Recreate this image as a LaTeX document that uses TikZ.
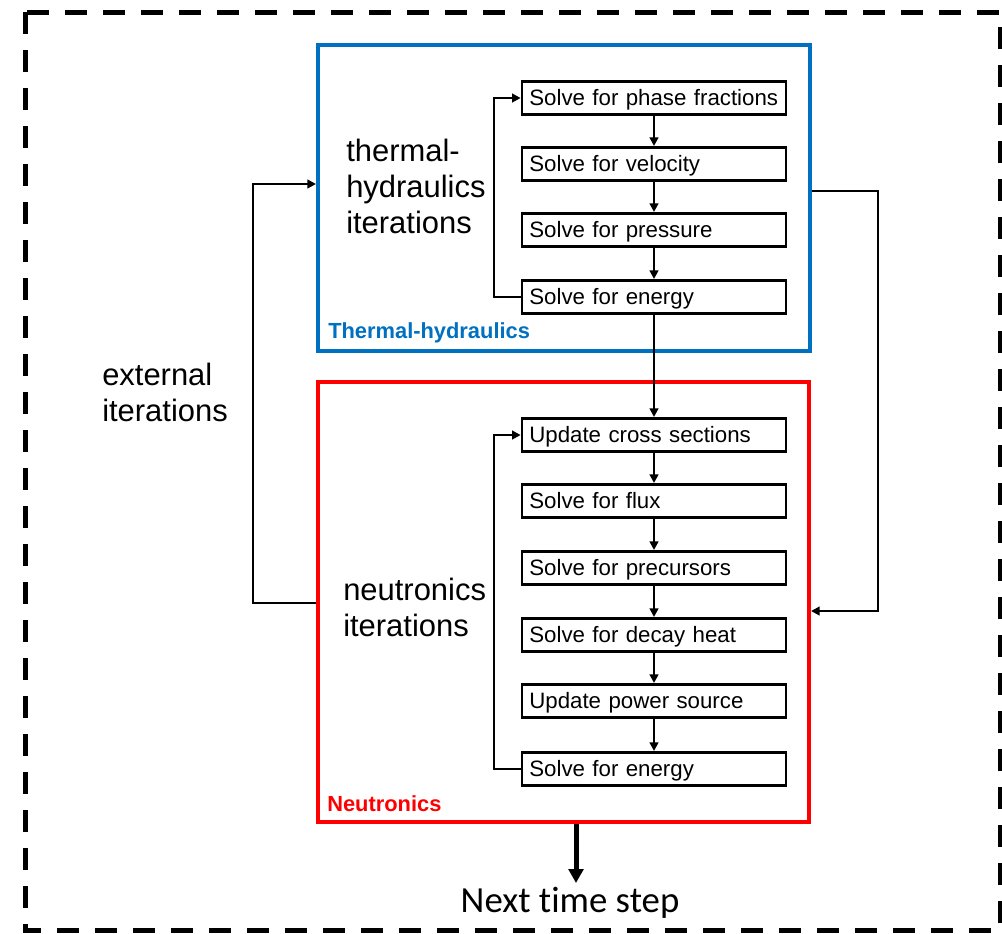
\documentclass[tikz,border=0pt]{standalone}
\usepackage{fontspec}
\setmainfont{Liberation Sans}
\newfontfamily\calfont[Ligatures={NoCommon}]{Carlito}
\usetikzlibrary{arrows.meta}
\definecolor{thblue}{HTML}{0070C0}
\definecolor{ntred}{HTML}{FF0000}
\begin{document}
\begin{tikzpicture}[x=0.75pt,y=-0.75pt,
  stepbox/.style={draw=black, line width=2pt, text width=187pt, inner xsep=5.5pt, inner ysep=0pt,
     text height=14pt, text depth=3.5pt,
     minimum height=25pt, align=left, font=\fontsize{16.7pt}{19pt}\selectfont},
  conn/.style={line width=2pt, -{Triangle[length=6.5pt,width=6.5pt]}},
  biglabel/.style={inner sep=0pt, anchor=west, align=left, font=\fontsize{23.2pt}{27pt}\selectfont},
  frame/.style={line width=3pt, inner sep=0pt}
]
\useasboundingbox (0,0) rectangle (1002,933);
% outer dashed frame
\draw[line width=3.75pt, dash pattern=on 16.5pt off 12pt] (25,12) rectangle (1000,930);

% group boxes
\node[frame, draw=thblue, minimum width=369pt, minimum height=229.5pt] (th) at (564,198) {};
\node[frame, draw=ntred, minimum width=368.25pt, minimum height=330pt] (nt) at (563.5,602) {};

\node[inner sep=0pt, anchor=west, text=thblue, font=\fontsize{16.4pt}{19pt}\selectfont\bfseries] (thlab) at (328,333) {Thermal-hydraulics};
\node[inner sep=0pt, anchor=west, text=ntred, font=\fontsize{16.4pt}{19pt}\selectfont\bfseries] (ntlab) at (327,804) {Neutronics};

% thermal-hydraulics steps
\node[stepbox] (t1) at (654,98) {Solve for phase fractions};
\node[stepbox] (t2) at (654,164) {Solve for velocity};
\node[stepbox] (t3) at (654,230) {Solve for pressure};
\node[stepbox] (t4) at (654,297) {Solve for energy};

% neutronics steps
\node[stepbox] (n1) at (654,435) {Update cross sections};
\node[stepbox] (n2) at (654,501) {Solve for flux};
\node[stepbox] (n3) at (654,568) {Solve for precursors};
\node[stepbox] (n4) at (654,635) {Solve for decay heat};
\node[stepbox] (n5) at (654,701) {Update power source};
\node[stepbox] (n6) at (654,769) {Solve for energy};

% labels
\node[biglabel] (thit) at (346,186) {thermal-\\hydraulics\\iterations};
\node[biglabel] (ntit) at (343,607) {neutronics\\iterations};
\node[biglabel] (extit) at (102,392) {external\\iterations};
\node[inner sep=0pt, font=\calfont\fontsize{27.6pt}{30pt}\selectfont] (next) at (570,903) {Next time step};

% chain arrows
\draw[conn] (t1) -- (t2);
\draw[conn] (t2) -- (t3);
\draw[conn] (t3) -- (t4);
\draw[conn] (t4) -- (n1);
\draw[conn] (n1) -- (n2);
\draw[conn] (n2) -- (n3);
\draw[conn] (n3) -- (n4);
\draw[conn] (n4) -- (n5);
\draw[conn] (n5) -- (n6);

% inner loops
\draw[conn] (t4.west) -- (494,297) |- (t1.west);
\draw[conn] (n6.west) -- (494,769) |- (n1.west);

% coupling loops
\draw[conn] (th.east |- 0,191) -| (878,611) -- (nt.east |- 0,611);
\draw[conn] (nt.west |- 0,603) -| (253,184) -- (th.west |- 0,184);

% next time step
\draw[line width=3.75pt, -{Triangle[length=10.5pt,width=11pt]}] (nt.south -| 576,0) -- (576,883);
\end{tikzpicture}
\end{document}
